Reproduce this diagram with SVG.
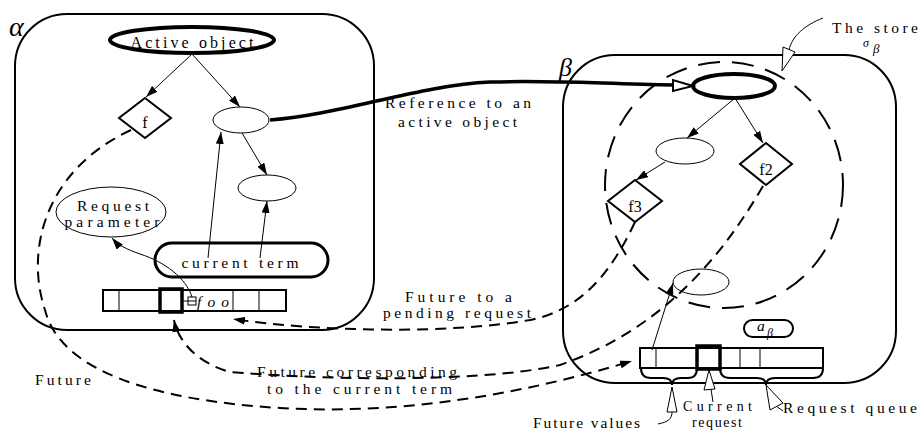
<svg xmlns="http://www.w3.org/2000/svg" width="920" height="431" viewBox="0 0 920 431">
<defs>
<style>
.t{font-family:"Liberation Serif","DejaVu Serif",serif;font-size:15.5px;fill:#000}
.it{font-style:italic}
.box{fill:none;stroke:#000;stroke-width:2}
.thin{fill:none;stroke:#000;stroke-width:1}
.node{fill:#fff;stroke:#000;stroke-width:1}
.dia{fill:#fff;stroke:#000;stroke-width:2}
.thick{fill:#fff;stroke:#000;stroke-width:4}
.dash{fill:none;stroke:#000;stroke-width:2;stroke-dasharray:11 7}
.arr{fill:none;stroke:#000;stroke-width:1;marker-end:url(#ah)}
.open{fill:#fff;stroke:#000;stroke-width:1}
</style>
<marker id="ah" markerUnits="userSpaceOnUse" markerWidth="12" markerHeight="8" refX="12" refY="4" orient="auto">
<path d="M0,0 L12,4 L0,8 z" fill="#000"/>
</marker>
</defs>
<rect width="920" height="431" fill="#fff"/>

<g id="alpha-box">
<rect class="box" x="15" y="14" width="359" height="316" rx="52"/>
<text class="t it" x="9" y="36" style="font-size:28px">α</text>
</g>
<g id="beta-box">
<rect class="box" x="563" y="55" width="333" height="328" rx="52"/>
<text class="t it" x="559" y="76" style="font-size:26px">β</text>
</g>
<g id="store">
<ellipse cx="724" cy="185" rx="119" ry="123" fill="none" stroke="#000" stroke-width="2" stroke-dasharray="22 12"/>
</g>

<g id="active-object">
<ellipse class="thick" cx="192" cy="40" rx="82" ry="13"/>
<text class="t" x="192" y="48" text-anchor="middle" textLength="123" lengthAdjust="spacing" style="font-size:16px">Active object</text>
</g>
<g id="f">
<polygon class="dia" points="145,98 171,118 145,138 119,118"/>
<text class="t" x="145" y="128" text-anchor="middle" style="font-size:16px">f</text>
</g>
<g id="a-ref"><ellipse class="node" cx="241" cy="120" rx="28" ry="13"/></g>
<g id="a-obj2"><ellipse class="node" cx="267" cy="188" rx="29" ry="13"/></g>
<g id="request-parameter">
<ellipse class="node" cx="111" cy="212" rx="55" ry="25"/>
<text class="t" x="113" y="211" text-anchor="middle" textLength="72" lengthAdjust="spacing">Request</text>
<text class="t" x="112" y="227" text-anchor="middle" textLength="95" lengthAdjust="spacing">parameter</text>
</g>
<g id="current-term">
<rect x="155" y="243" width="173" height="34" rx="17" fill="#fff" stroke="#000" stroke-width="3"/>
<text class="t" x="240" y="268" text-anchor="middle" textLength="117" lengthAdjust="spacing">current term</text>
</g>
<g id="alpha-queue">
<rect class="box" x="103" y="290" width="183" height="21"/>
<line class="thin" x1="119" y1="290" x2="119" y2="311"/>
<line class="thin" x1="233" y1="290" x2="233" y2="311"/>
<line class="thin" x1="259" y1="290" x2="259" y2="311"/>
<rect x="160" y="289" width="22" height="23" fill="none" stroke="#000" stroke-width="3.5"/>
<line class="thin" x1="182" y1="301" x2="196" y2="301"/>
<rect class="thin" x="188" y="297" width="8" height="8"/>
<text class="t it" x="197" y="307" textLength="32" lengthAdjust="spacing">foo</text>
</g>

<g id="beta-active">
<ellipse class="thick" cx="734" cy="86" rx="41" ry="12" fill="none"/>
</g>
<g id="b-obj1"><ellipse class="node" cx="685" cy="151" rx="29" ry="13"/></g>
<g id="f2">
<polygon class="dia" points="766,143 792,164 766,185 740,164"/>
<text class="t" x="766" y="175" text-anchor="middle" style="font-size:16px">f2</text>
</g>
<g id="f3">
<polygon class="dia" points="635,180 662,201 635,222 608,201"/>
<text class="t" x="635" y="212" text-anchor="middle" style="font-size:16px">f3</text>
</g>
<g id="b-obj2"><ellipse class="node" cx="701" cy="282" rx="28" ry="13"/></g>
<g id="a-beta">
<rect x="744" y="320" width="49" height="17" rx="8.5" fill="#fff" stroke="#000" stroke-width="2"/>
<text class="t it" x="757" y="331">a</text>
<text class="t it" x="767" y="337" style="font-size:12px">β</text>
</g>
<g id="beta-queue">
<rect class="box" x="640" y="348" width="183" height="20"/>
<line class="thin" x1="656" y1="348" x2="656" y2="368"/>
<line class="thin" x1="740" y1="348" x2="740" y2="368"/>
<line class="thin" x1="760" y1="348" x2="760" y2="368"/>
<rect x="697" y="346" width="23" height="23" fill="none" stroke="#000" stroke-width="3.5"/>
<path class="box" d="M641,368 Q641,378 651,378 L663,378 Q672,378 672,385 Q672,378 681,378 L688,378 Q697,378 697,368"/>
<path class="box" d="M720,368 Q720,378 730,378 L757,378 Q766,378 766,385 Q766,378 775,378 L813,378 Q823,378 823,368"/>
</g>

<g id="connectors">
<line class="arr" x1="192" y1="54" x2="146" y2="97"/>
<line class="arr" x1="192" y1="54" x2="240" y2="107"/>
<line class="arr" x1="242" y1="133" x2="267" y2="175"/>
<line class="arr" x1="208" y1="258" x2="221" y2="132"/>
<line class="arr" x1="260" y1="258" x2="267" y2="201"/>
<path class="arr" d="M192,297 C186,278 165,262 140,254 C126,249 118,245 112,238"/>
<line class="arr" x1="735" y1="98" x2="687" y2="138"/>
<line class="arr" x1="735" y1="98" x2="763" y2="143"/>
<line class="arr" x1="665" y1="162" x2="636" y2="180"/>
<line class="arr" x1="652" y1="350" x2="673" y2="283"/>
<path d="M270,120 C340,115 420,85 490,82 C560,80 600,84 674,85" fill="none" stroke="#000" stroke-width="3.5"/>
<polygon points="673,80 673,91 693,86" fill="#fff" stroke="#000" stroke-width="2"/>
<path class="dash" d="M131,130 C45,170 25,250 45,310 C60,370 150,400 280,408 C400,415 520,395 632,361" marker-end="url(#ah)"/>
<path class="dash" d="M763,186 C720,260 660,330 560,365 C470,385 300,378 230,372 C195,362 178,340 174,320" marker-end="url(#ah)"/>
<path class="dash" d="M635,222 C610,275 580,310 530,320 C450,334 320,332 233,319" marker-end="url(#ah)"/>
<path class="thin" d="M823,18 C805,25 792,36 789,50"/>
<polygon class="open" points="783,47 795,52 782,71"/>
<path class="thin" d="M672,412 C672,419 668,422 658,424"/>
<polygon class="open" points="672,387 667,412 677,412"/>
<line class="thin" x1="711" y1="389" x2="713" y2="402"/>
<polygon class="open" points="709,370 704,390 715,389"/>
<line class="thin" x1="776" y1="406" x2="783" y2="411"/>
<polygon class="open" points="766,385 770,410 783,403"/>
</g>

<g id="labels">
<text class="t" x="385" y="108" textLength="146" lengthAdjust="spacing">Reference to an</text>
<text class="t" x="398" y="127" textLength="119" lengthAdjust="spacing">active object</text>
<text class="t" x="405" y="302" textLength="107" lengthAdjust="spacing">Future to a</text>
<text class="t" x="383" y="318" textLength="148" lengthAdjust="spacing">pending request</text>
<text class="t" x="257" y="377" textLength="200" lengthAdjust="spacing">Future corresponding</text>
<text class="t" x="267" y="394" textLength="185" lengthAdjust="spacing">to the current term</text>
<text class="t" x="35" y="385" textLength="56" lengthAdjust="spacing">Future</text>
<text class="t" x="683" y="411" textLength="69" lengthAdjust="spacing" style="font-size:14px">Current</text>
<text class="t" x="692" y="427" textLength="50" lengthAdjust="spacing" style="font-size:14px">request</text>
<text class="t" x="783" y="413" textLength="134" lengthAdjust="spacing">Request queue</text>
<text class="t" x="533" y="428" textLength="107" lengthAdjust="spacing">Future values</text>
<text class="t" x="832" y="33" textLength="86" lengthAdjust="spacing">The store</text>
<text class="t it" x="863" y="47" style="font-size:12px">σ</text>
<text class="t it" x="873" y="53" style="font-size:13px">β</text>
</g>
</svg>
